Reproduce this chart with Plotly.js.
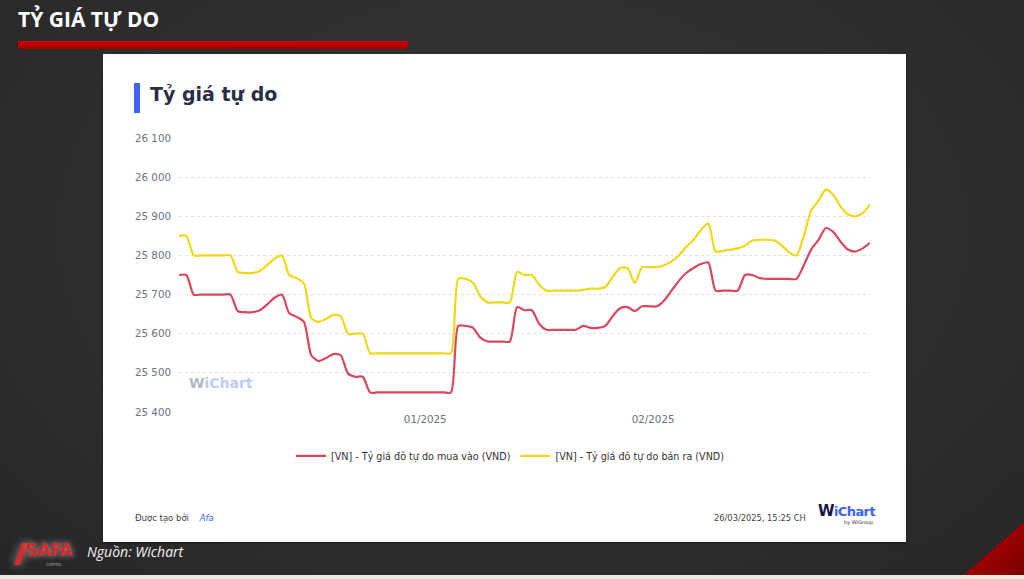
<!DOCTYPE html>
<html>
<head>
<meta charset="utf-8">
<script src="https://cdn.plot.ly/plotly-3.0.1.min.js"></script>
<style>
html,body{margin:0;padding:0;width:1024px;height:579px;overflow:hidden;background:#2f2f2f;}
#slide{position:absolute;left:0;top:0;width:1024px;height:579px;background:radial-gradient(ellipse at 50% 40%,#363636 0%,#2c2c2c 70%,#262626 100%);}
#slideTitle{position:absolute;left:18px;top:5px;font-family:"Open Sans",sans-serif;font-weight:700;font-size:21px;color:#ffffff;}
#redBar{position:absolute;left:18px;top:41px;width:390px;height:8px;background:linear-gradient(#d00000,#9a0000);border-radius:1px;}
#card{position:absolute;left:103px;top:54px;width:803px;height:488px;background:#ffffff;box-shadow:0 1px 2px rgba(0,0,0,0.5);}
#accent{position:absolute;left:134px;top:83px;width:6px;height:30px;background:#3d63f5;}
#cardTitle{position:absolute;left:150px;top:83px;font-family:"DejaVu Sans",sans-serif;font-weight:700;font-size:19px;color:#2b2f44;}
#createdBy{position:absolute;left:135px;top:513px;font-family:"DejaVu Sans",sans-serif;font-size:8.5px;color:#444;}
#createdBy i{color:#3d63f5;margin-left:8px;}
#stamp{position:absolute;left:714px;top:513px;font-family:"DejaVu Sans",sans-serif;font-size:8.3px;color:#444;}
#logo{position:absolute;left:818px;top:502px;font-family:"DejaVu Sans",sans-serif;font-weight:700;font-size:13px;color:#3d63f5;letter-spacing:-0.6px;}
#logo b{color:#14164a;font-size:15px;}
#logoSub{position:absolute;left:844px;top:519px;font-family:"DejaVu Sans",sans-serif;font-size:5px;color:#333;}
#source{position:absolute;left:87px;top:542px;font-family:"Open Sans",sans-serif;font-style:italic;font-size:14px;color:#f2f2f2;}
#afaMark{position:absolute;left:18px;top:543px;width:6px;height:22px;background:#d42a2a;transform:skewX(-20deg);box-shadow:0 0 8px rgba(255,255,255,0.5);}
#afa{position:absolute;left:26px;top:540px;font-family:"DejaVu Sans",sans-serif;font-weight:700;font-size:17px;color:#d42a2a;text-shadow:0 0 6px rgba(255,255,255,0.6);letter-spacing:-0.5px;}
#afaSub{position:absolute;left:46px;top:562px;font-family:"DejaVu Sans",sans-serif;font-size:4px;color:#aaa;}
#tri{position:absolute;left:963px;top:522px;width:61px;height:54px;background:linear-gradient(135deg,#c00000,#7a0000);clip-path:polygon(100% 0,100% 100%,0 100%);}
#strip{position:absolute;left:0;top:575px;width:1024px;height:4px;background:#efe9df;}
#chart{position:absolute;left:0;top:0;width:1024px;height:579px;}
</style>
</head>
<body>
<div id="slide"></div>
<div id="slideTitle">TỶ GIÁ TỰ DO</div>
<div id="redBar"></div>
<div id="card"></div>
<div id="accent"></div>
<div id="cardTitle">Tỷ giá tự do</div>
<div id="createdBy">Được tạo bởi <i>Afa</i></div>
<div id="stamp">26/03/2025, 15:25 CH</div>
<div id="logo"><b>W</b>iChart</div>
<div id="logoSub">by WiGroup</div>
<div id="afaMark"></div>
<div id="afa">SAFA</div>
<div id="afaSub">CAPITAL</div>
<div id="source">Nguồn: Wichart</div>
<div id="tri"></div>
<div id="strip"></div>
<div id="chart"></div>
<script>
const dates = [
'2024-11-28','2024-11-29','2024-11-30',
'2024-12-01','2024-12-02','2024-12-03','2024-12-04','2024-12-05','2024-12-06','2024-12-07','2024-12-08','2024-12-09','2024-12-10',
'2024-12-11','2024-12-12','2024-12-13','2024-12-14','2024-12-15','2024-12-16','2024-12-17','2024-12-18','2024-12-19','2024-12-20',
'2024-12-21','2024-12-22','2024-12-23','2024-12-24','2024-12-25','2024-12-26','2024-12-27','2024-12-28','2024-12-29','2024-12-30','2024-12-31',
'2025-01-01','2025-01-02','2025-01-03','2025-01-04','2025-01-05','2025-01-06','2025-01-07','2025-01-08','2025-01-09','2025-01-10',
'2025-01-11','2025-01-12','2025-01-13','2025-01-14','2025-01-15','2025-01-16','2025-01-17','2025-01-18','2025-01-19','2025-01-20',
'2025-01-21','2025-01-22','2025-01-23','2025-01-24','2025-01-25','2025-01-26','2025-01-27','2025-01-28','2025-01-29','2025-01-30','2025-01-31',
'2025-02-01','2025-02-02','2025-02-03','2025-02-04','2025-02-05','2025-02-06','2025-02-07','2025-02-08','2025-02-09','2025-02-10',
'2025-02-11','2025-02-12','2025-02-13','2025-02-14','2025-02-15','2025-02-16','2025-02-17','2025-02-18','2025-02-19','2025-02-20',
'2025-02-21','2025-02-22','2025-02-23','2025-02-24','2025-02-25','2025-02-26','2025-02-27','2025-02-28',
'2025-03-01','2025-03-02'];

const buyRates = [
25750,25750,25700,25700,25700,25700,25700,25700,25658,25655,
25655,25660,25675,25692,25700,25652,25643,25630,25545,25530,
25538,25548,25545,25498,25490,25490,25450,25450,25450,25450,
25450,25450,25450,25450,25450,25450,25450,25450,25620,25620,
25615,25590,25580,25580,25580,25580,25668,25660,25660,25625,
25610,25610,25610,25610,25610,25620,25615,25615,25620,25645,
25665,25668,25658,25670,25670,25670,25685,25710,25735,25755,
25768,25778,25782,25710,25710,25710,25710,25750,25750,25742,
25740,25740,25740,25740,25740,25775,25815,25840,25870,25860,
25835,25815,25810,25818,25832];

const sellRates = [
25850,25850,25800,25800,25800,25800,25800,25800,25758,25755,
25755,25760,25775,25792,25800,25750,25742,25728,25640,25630,
25638,25648,25645,25600,25600,25600,25550,25550,25550,25550,
25550,25550,25550,25550,25550,25550,25550,25550,25740,25740,
25730,25695,25680,25680,25680,25680,25758,25750,25750,25725,
25710,25710,25710,25710,25710,25712,25715,25715,25720,25745,
25768,25768,25730,25770,25770,25770,25775,25785,25800,25822,
25840,25865,25882,25810,25812,25815,25818,25825,25838,25840,
25840,25838,25825,25808,25800,25850,25915,25940,25968,25955,
25925,25905,25900,25908,25930];

const seriesNames = ['[VN] - Tỷ giá đô tự do mua vào (VND)', '[VN] - Tỷ giá đô tự do bán ra (VND)'];
const tickDates = ['2025-01-01','2025-02-01'];
const tickLabels = ['01/2025','02/2025'];

const xs = dates.map(d => d + ' 12:00');

const traces = [
  {x: xs, y: buyRates, name: seriesNames[0], type: 'scatter', mode: 'lines',
   line: {color: '#d9475c', width: 2.2, shape: 'spline', smoothing: 0.7}},
  {x: xs, y: sellRates, name: seriesNames[1], type: 'scatter', mode: 'lines',
   line: {color: '#f0d817', width: 2.2, shape: 'spline', smoothing: 0.7}}
];

const layout = {
  width: 1024, height: 579,
  paper_bgcolor: 'rgba(0,0,0,0)', plot_bgcolor: 'rgba(0,0,0,0)',
  margin: {l: 179, r: 154, t: 138, b: 167},
  separators: ', ',
  font: {family: 'DejaVu Sans, sans-serif', size: 10, color: '#6b7280'},
  showlegend: true,
  legend: {orientation: 'h', x: 0.479, xanchor: 'center', y: -0.16, yanchor: 'middle',
           font: {family: 'DejaVu Sans, sans-serif', size: 9.6, color: '#333333'},
           bgcolor: 'rgba(0,0,0,0)', itemwidth: 30},
  xaxis: {type: 'date', range: [xs[0], xs[xs.length - 1]], tickmode: 'array',
          tickvals: tickDates, ticktext: tickLabels, showgrid: false, zeroline: false,
          showline: false, ticks: '', tickfont: {size: 10.3, color: '#6b7280'}},
  yaxis: {range: [25400, 26100], dtick: 100, tick0: 25400, tickformat: ',d',
          showgrid: true, gridcolor: '#e2e2e2', griddash: 'dot', gridwidth: 1,
          zeroline: false, showline: false, ticks: '', ticklabelstandoff: 7,
          tickfont: {size: 10.3, color: '#6b7280'}},
  annotations: [
    {xref: 'paper', yref: 'paper', x: 0.012, y: 0.106, xanchor: 'left', yanchor: 'middle',
     showarrow: false,
     text: '<b><span style="color:rgba(90,90,110,0.45)">W</span><span style="color:rgba(61,99,245,0.35)">iChart</span></b>',
     font: {family: 'DejaVu Sans, sans-serif', size: 14}}
  ]
};

Plotly.newPlot('chart', traces, layout, {staticPlot: true, displayModeBar: false});
</script>
</body>
</html>
